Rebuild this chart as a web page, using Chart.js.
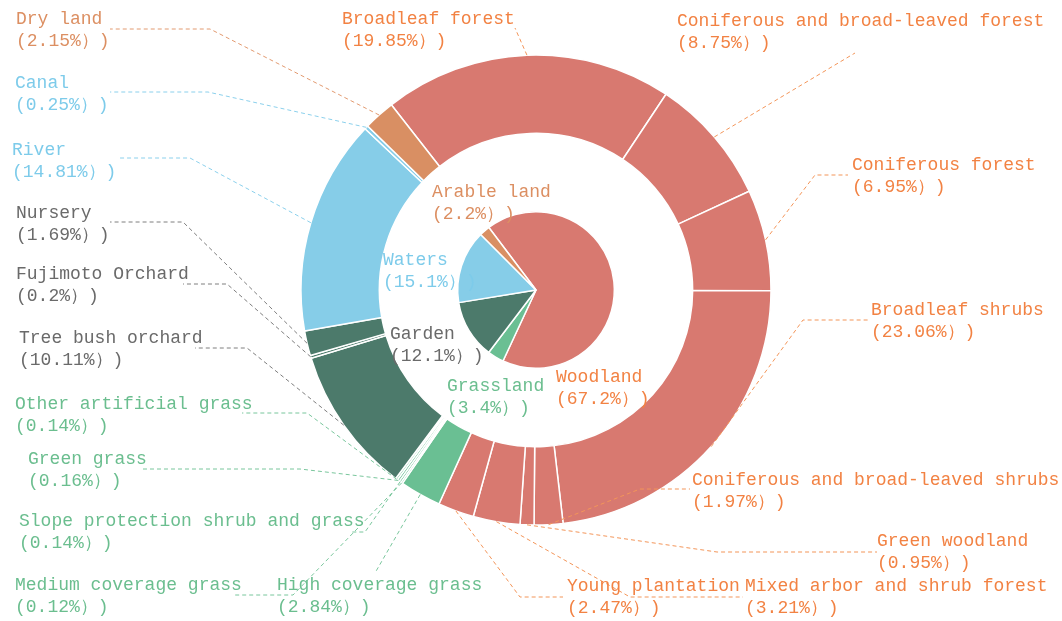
<!DOCTYPE html>
<html>
<head>
<meta charset="utf-8">
<script src="https://cdn.jsdelivr.net/npm/chart.js@4.4.1/dist/chart.umd.min.js"></script>
<style>
  html, body { margin: 0; padding: 0; background: #fff; }
  .chartBox { width: 1062px; height: 621px; }
</style>
</head>
<body>
<div class="chartBox"><canvas id="landUse"></canvas></div>
<script>
// inner pie: land use classes
const innerLabels = ["Woodland", "Grassland", "Garden", "Waters", "Arable land"];
const innerValues = [67.2, 3.4, 12.1, 15.1, 2.2];

// outer ring: sub classes, same clockwise order
const outerLabels = [
    "Broadleaf forest", "Coniferous and broad-leaved forest", "Coniferous forest",
    "Broadleaf shrubs", "Coniferous and broad-leaved shrubs", "Green woodland",
    "Mixed arbor and shrub forest", "Young plantation",
    "High coverage grass", "Medium coverage grass", "Slope protection shrub and grass",
    "Green grass", "Other artificial grass",
    "Tree bush orchard", "Fujimoto Orchard", "Nursery",
    "River", "Canal", "Dry land"
];
const outerValues = [19.85, 8.75, 6.95, 23.06, 1.97, 0.95, 3.21, 2.47,
    2.84, 0.12, 0.14, 0.16, 0.14, 10.11, 0.2, 1.69, 14.81, 0.25, 2.15];
// which inner class each sub class belongs to
const outerClass = [0, 0, 0, 0, 0, 0, 0, 0, 1, 1, 1, 1, 1, 2, 2, 2, 3, 3, 4];

// styles per class
const sliceColor = ["#D87970", "#6ABF93", "#4C7A6B", "#86CDE8", "#D98F63"];
const textColor = ["#F28243", "#6BBE8F", "#6A6A6A", "#7DCBEA", "#DC8F62"];
const lineColor = ["#F39559", "#79C69C", "#7E7E7E", "#8BD0EC", "#E29A70"];

// label layout: [textX, firstLineY, kneeX, kneeY, endX, endY]
const outerLayout = [
    [342, 19, 515, 28, 515, 28],
    [677, 21, 855, 53, 855, 53],
    [852, 165, 815, 175, 848, 175],
    [871, 310, 803, 320, 868, 320],
    [692, 480, 640, 489, 690, 489],
    [877, 541, 717, 552, 877, 552],
    [745, 586, 630, 597, 743, 597],
    [567, 586, 520, 597, 563, 597],
    [277, 585, 375, 573, 375, 573],
    [15, 585, 293, 595, 233, 595],
    [19, 521, 365, 532, 352, 532],
    [28, 459, 300, 469, 143, 469],
    [15, 404, 307, 413, 242, 413],
    [19, 338, 247, 348, 195, 348],
    [16, 274, 227, 284, 183, 284],
    [16, 213, 183, 222, 110, 222],
    [12, 150, 190, 158, 118, 158],
    [15, 83, 208, 92, 110, 92],
    [16, 19, 210, 29, 110, 29]
];
const innerLayout = [[556, 377], [447, 386], [390, 334], [383, 260], [432, 192]];

const FONT = "18px 'Liberation Mono', 'DejaVu Sans Mono', monospace";
const LINE_GAP = 22;

function pctText(v) {
    return "(" + v + "%\uFF09)";
}

const labelPlugin = {
    id: "labelPlugin",
    afterDatasetsDraw(chart) {
        const ctx = chart.ctx;
        const arcs = chart.getDatasetMeta(0).data;
        ctx.save();
        ctx.font = FONT;
        ctx.textBaseline = "middle";
        ctx.textAlign = "left";
        ctx.lineWidth = 1;
        ctx.setLineDash([4, 3]);
        arcs.forEach((arc, i) => {
            const p = arc.getProps(["x", "y", "startAngle", "endAngle", "outerRadius"], true);
            const mid = (p.startAngle + p.endAngle) / 2;
            const sx = p.x + Math.cos(mid) * p.outerRadius;
            const sy = p.y + Math.sin(mid) * p.outerRadius;
            const l = outerLayout[i];
            ctx.strokeStyle = lineColor[outerClass[i]];
            ctx.beginPath();
            ctx.moveTo(sx, sy);
            ctx.lineTo(l[2], l[3]);
            ctx.lineTo(l[4], l[5]);
            ctx.stroke();
        });
        ctx.setLineDash([]);
        arcs.forEach((arc, i) => {
            const l = outerLayout[i];
            ctx.fillStyle = textColor[outerClass[i]];
            ctx.fillText(outerLabels[i], l[0], l[1]);
            ctx.fillText(pctText(outerValues[i]), l[0], l[1] + LINE_GAP);
        });
        innerLabels.forEach((name, i) => {
            const l = innerLayout[i];
            ctx.fillStyle = textColor[i];
            ctx.fillText(name, l[0], l[1]);
            ctx.fillText(pctText(innerValues[i]), l[0], l[1] + LINE_GAP);
        });
        ctx.restore();
    }
};

new Chart(document.getElementById("landUse"), {
    type: "doughnut",
    data: {
        labels: outerLabels,
        datasets: [
            {
                data: outerValues,
                backgroundColor: outerClass.map((c) => sliceColor[c]),
                borderColor: "#fff",
                borderWidth: 1.5,
                rotation: -38,
                weight: 1
            },
            {
                // empty ring between pie and outer ring
                data: [1],
                backgroundColor: "rgba(0,0,0,0)",
                borderWidth: 0,
                weight: 1
            },
            {
                data: innerValues,
                backgroundColor: sliceColor,
                borderColor: "#fff",
                borderWidth: 1.5,
                rotation: -37,
                weight: 1
            }
        ]
    },
    options: {
        responsive: true,
        maintainAspectRatio: false,
        animation: false,
        cutout: 0,
        radius: 235,
        layout: { padding: { left: 10, right: 0, top: 0, bottom: 41 } },
        plugins: {
            legend: { display: false },
            tooltip: { enabled: false }
        }
    },
    plugins: [labelPlugin]
});
</script>
</body>
</html>
